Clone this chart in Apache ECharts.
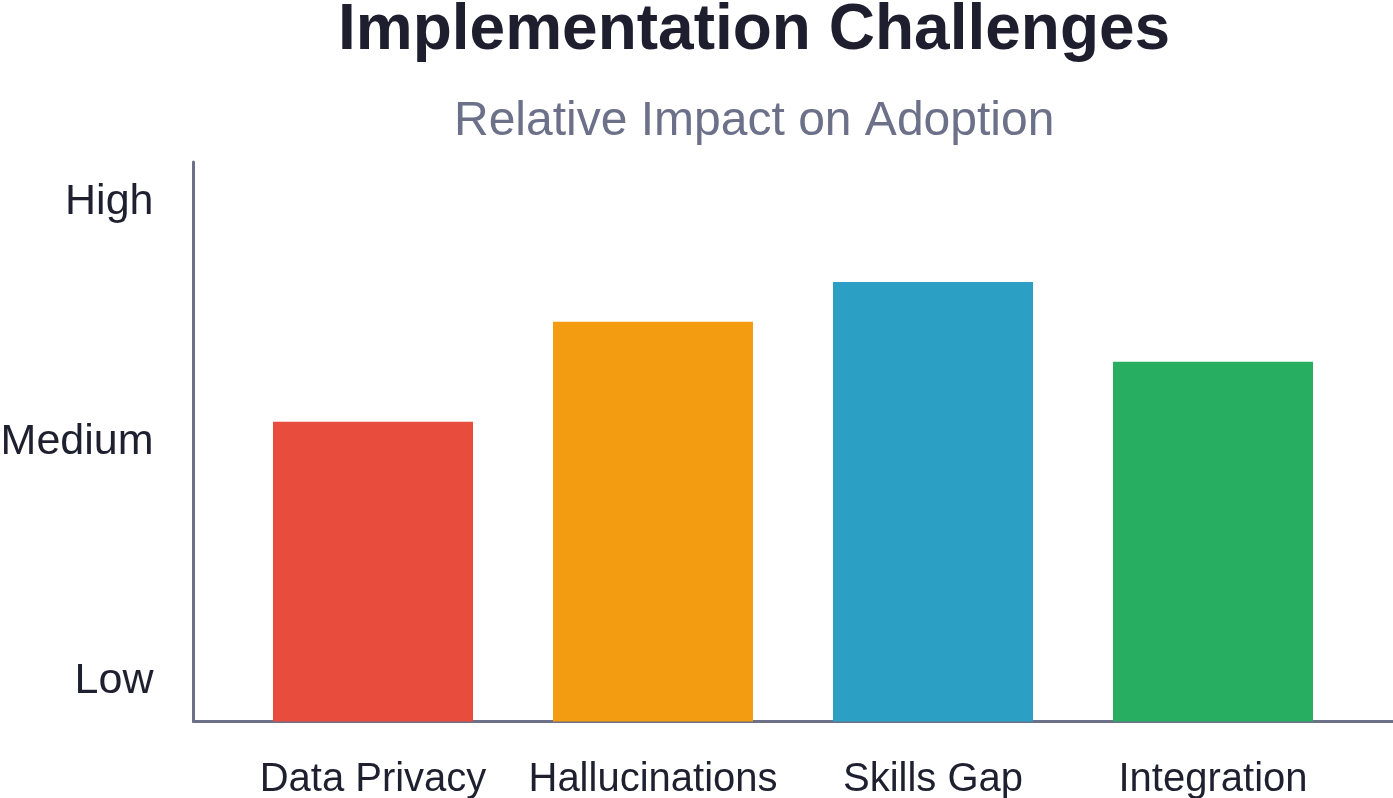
<!DOCTYPE html>
<html>
<head>
<meta charset="utf-8">
<title>Implementation Challenges</title>
<script src="https://cdn.jsdelivr.net/npm/echarts@6/dist/echarts.min.js"></script>
<style>
  html, body { margin: 0; padding: 0; background: #fff; }
  #chart { width: 1393px; height: 798px; }
</style>
</head>
<body>
<div id="chart"></div>
<script>
// data
const categories = ['Data Privacy', 'Hallucinations', 'Skills Gap', 'Integration'];
const impact = [7.5, 10, 11, 9];
const barColors = ['#e74c3c', '#f39c12', '#2c9fc5', '#27ae60'];
// tick labels on the impact scale (0..14)
const levelValues = [1, 7, 13];
const levelLabels = ['Low', 'Medium', 'High'];

const FONT = '"Liberation Sans", Arial, sans-serif';
const AXIS_COLOR = '#6c7089';
const TEXT_COLOR = '#1e2030';

const chart = echarts.init(document.getElementById('chart'));

const option = {
  backgroundColor: '#ffffff',
  animation: false,
  title: [
    {
      text: 'Implementation Challenges',
      left: 333, top: -6,
      textStyle: { fontFamily: FONT, fontSize: 64, fontWeight: 'bold', color: '#1e1e2e' }
    },
    {
      text: 'Relative Impact on Adoption',
      left: 449, top: 93,
      textStyle: { fontFamily: FONT, fontSize: 48, fontWeight: 'normal', color: AXIS_COLOR }
    }
  ],
  grid: [
    // frame with the axis lines
    { left: 193.5, right: 0, top: 162, bottom: 76.5, containLabel: false, outerBoundsMode: 'none' },
    // bars
    { left: 233, right: 40, top: 162, bottom: 76.5, containLabel: false, outerBoundsMode: 'none' }
  ],
  xAxis: [
    {
      gridIndex: 0, type: 'value', min: 0, max: 1,
      axisLine: { show: true, lineStyle: { color: AXIS_COLOR, width: 3 } },
      axisTick: { show: false }, axisLabel: { show: false }, splitLine: { show: false }
    },
    {
      gridIndex: 1, type: 'category', data: categories,
      axisLine: { show: false }, axisTick: { show: false },
      axisLabel: { interval: 0, margin: 38, fontFamily: FONT, fontSize: 40, color: TEXT_COLOR }
    }
  ],
  yAxis: [
    {
      gridIndex: 0, type: 'value', min: 0, max: 14, interval: 1,
      axisLine: { show: true, lineStyle: { color: AXIS_COLOR, width: 3 } },
      axisTick: { show: false }, splitLine: { show: false },
      axisLabel: {
        margin: 40, fontFamily: FONT, fontSize: 43, color: TEXT_COLOR,
        formatter: v => {
          const i = levelValues.indexOf(v);
          return i >= 0 ? levelLabels[i] : '';
        }
      }
    },
    {
      gridIndex: 1, type: 'value', min: 0, max: 14,
      show: false
    }
  ],
  series: [
    {
      type: 'bar',
      xAxisIndex: 1, yAxisIndex: 1,
      barWidth: 200,
      data: impact.map((v, i) => ({ value: v, itemStyle: { color: barColors[i] } }))
    }
  ]
};

chart.setOption(option);
</script>
</body>
</html>
